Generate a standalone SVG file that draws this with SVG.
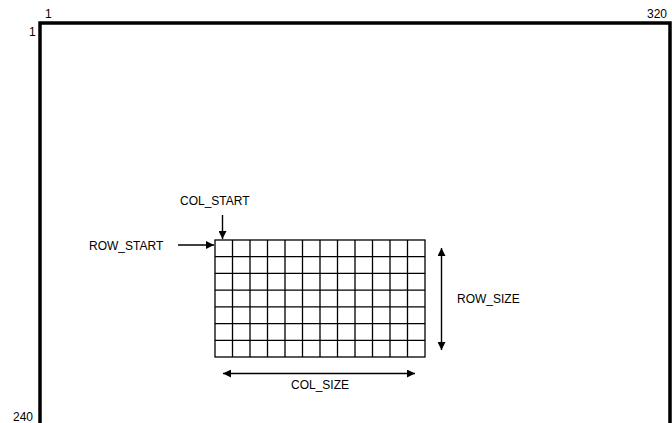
<svg xmlns="http://www.w3.org/2000/svg" width="672" height="423" viewBox="0 0 672 423">
<defs>
<style>
text{font-family:"Liberation Sans",Arial,sans-serif;font-size:12px;fill:#000}
.frame{fill:none;stroke:#000;stroke-width:3.5}
.grid{fill:none;stroke:#000;stroke-width:1.3}
.conn{stroke:#000;stroke-width:1.4;fill:none}
</style>
<marker id="ah" viewBox="0 0 10 10" refX="10" refY="5" markerWidth="8" markerHeight="8" markerUnits="userSpaceOnUse" orient="auto-start-reverse">
<path d="M0,0 L10,5 L0,10 z" fill="#000"/>
</marker>
</defs>
<rect width="672" height="423" fill="#fff"/>
<g id="frame">
<path class="frame" d="M40,423 V23 H670 V423"/>
<text x="45" y="18">1</text>
<text x="29" y="36">1</text>
<text x="647" y="18">320</text>
<text x="13" y="421">240</text>
</g>
<g id="grid">
<rect class="grid" x="215" y="240" width="210" height="117"/>
<path class="grid" d="M232.5,240V357M250,240V357M267.5,240V357M285,240V357M302.5,240V357M320,240V357M337.5,240V357M355,240V357M372.5,240V357M390,240V357M407.5,240V357M215,256.7H425M215,273.4H425M215,290.1H425M215,306.9H425M215,323.6H425M215,340.3H425"/>
</g>
<g id="labels">
<text x="180" y="205">COL_START</text>
<text x="89" y="250">ROW_START</text>
<text x="457" y="303">ROW_SIZE</text>
<text x="291" y="389">COL_SIZE</text>
</g>
<g id="connectors">
<line class="conn" x1="222.5" y1="215" x2="222.5" y2="239" marker-end="url(#ah)"/>
<line class="conn" x1="178" y1="245" x2="214" y2="245" marker-end="url(#ah)"/>
<line class="conn" x1="441.5" y1="248" x2="441.5" y2="350" marker-start="url(#ah)" marker-end="url(#ah)"/>
<line class="conn" x1="223" y1="373.5" x2="415" y2="373.5" marker-start="url(#ah)" marker-end="url(#ah)"/>
</g>
</svg>
